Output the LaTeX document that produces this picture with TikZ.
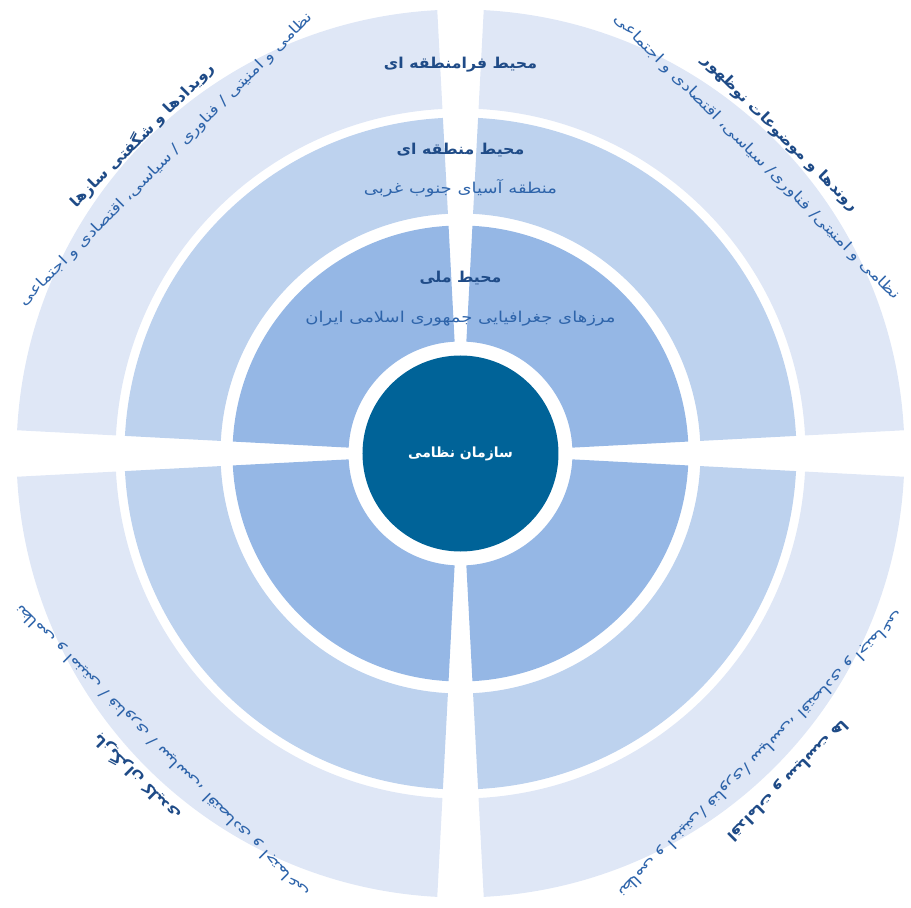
\documentclass[tikz,border=0pt]{standalone}
\usepackage{fontspec}
\newfontfamily\arabicfont[Script=Arabic]{DejaVu Sans}
\newfontfamily\headfamily[Script=Arabic, FakeStretch=1.05]{DejaVu Sans}
\newfontfamily\notefamily[Script=Arabic, FakeStretch=1.2]{DejaVu Sans}
\TeXXeTstate=1

\definecolor{coredark}{RGB}{0,99,152}
\definecolor{ringone}{RGB}{149,183,229}
\definecolor{ringtwo}{RGB}{189,210,238}
\definecolor{ringthree}{RGB}{223,231,246}
\definecolor{headblue}{RGB}{31,75,135}
\definecolor{textblue}{RGB}{46,100,170}

\newcommand\corefont{\arabicfont\bfseries\fontsize{14}{16}\selectfont}
\newcommand\titlefont{\headfamily\bfseries\fontsize{15}{17}\selectfont}
\newcommand\notefont{\notefamily\fontsize{15}{17}\selectfont}
\newcommand\quadnotefont{\notefamily\fontsize{14.75}{17}\selectfont}

% one quarter of a ring: colour, inner r, outer r, from, to
\newcommand\ringpart[5]{%
  \fill[#1] (#4:#3) arc[start angle=#4, end angle=#5, radius=#3]
    -- (#5:#2) arc[start angle=#5, end angle=#4, radius=#2] -- cycle;}

\begin{document}
\begin{tikzpicture}[
    x=1pt, y=1pt,
    every node/.style={inner sep=0pt, align=center},
    ringhead/.style={text=headblue, font=\titlefont},
    ringnote/.style={text=textblue, font=\notefont},
    quadhead/.style={text=headblue, font=\titlefont},
    quadnote/.style={text=textblue, font=\quadnotefont}
]
\useasboundingbox (-460.5,-454.5) rectangle (450.5,453.5);

% rings
\foreach \q in {0,90,180,270}{
  \ringpart{ringthree}{345}{444}{\q+3}{\q+87}
  \ringpart{ringtwo}{240}{336}{\q+3}{\q+87}
  \ringpart{ringone}{112}{228}{\q+3}{\q+87}
}
\fill[coredark] (0,0) circle (98);
\node[text=white, font=\corefont] (core) at (0,0) {\beginR سازمان نظامی\endR};

% ring labels
\node[ringhead] (outerhead) at (0,389) {\beginR محیط فرامنطقه ای\endR};
\node[ringhead] (midhead) at (0,303) {\beginR محیط منطقه ای\endR};
\node[ringnote] (midnote) at (0,265) {\beginR منطقه آسیای جنوب غربی\endR};
\node[ringhead] (innerhead) at (0,175) {\beginR محیط ملی\endR};
\node[ringnote] (innernote) at (0,135) {\beginR مرزهای جغرافیایی جمهوری اسلامی ایران\endR};

% corner texts
\node[quadhead, rotate=-45] (trendhead) at (45:452) {\beginR روندها و موضوعات نوظهور\endR};
\node[quadnote, rotate=-45] (trendnote) at (45:419) {\beginR نظامی و امنیتی/ فناوری/ سیاسی، اقتصادی و اجتماعی\endR};
\node[quadhead, rotate=45] (eventhead) at (135:450) {\beginR رویدادها و شگفتی سازها\endR};
\node[quadnote, rotate=45] (eventnote) at (135:416) {\beginR نظامی و امنیتی / فناوری / سیاسی، اقتصادی و اجتماعی\endR};
\node[quadhead, rotate=135] (actorhead) at (225:458) {\beginR بازیگران کلیدی\endR};
\node[quadnote, rotate=135] (actornote) at (225:421) {\beginR نظامی و امنیتی / فناوری / سیاسی، اقتصادی و اجتماعی\endR};
\node[quadhead, rotate=225] (policyhead) at (315:462) {\beginR اقدامات و سیاست ها\endR};
\node[quadnote, rotate=225] (policynote) at (315:425) {\beginR نظامی و امنیتی/ فناوری/ سیاسی، اقتصادی و اجتماعی\endR};
\end{tikzpicture}
\end{document}
